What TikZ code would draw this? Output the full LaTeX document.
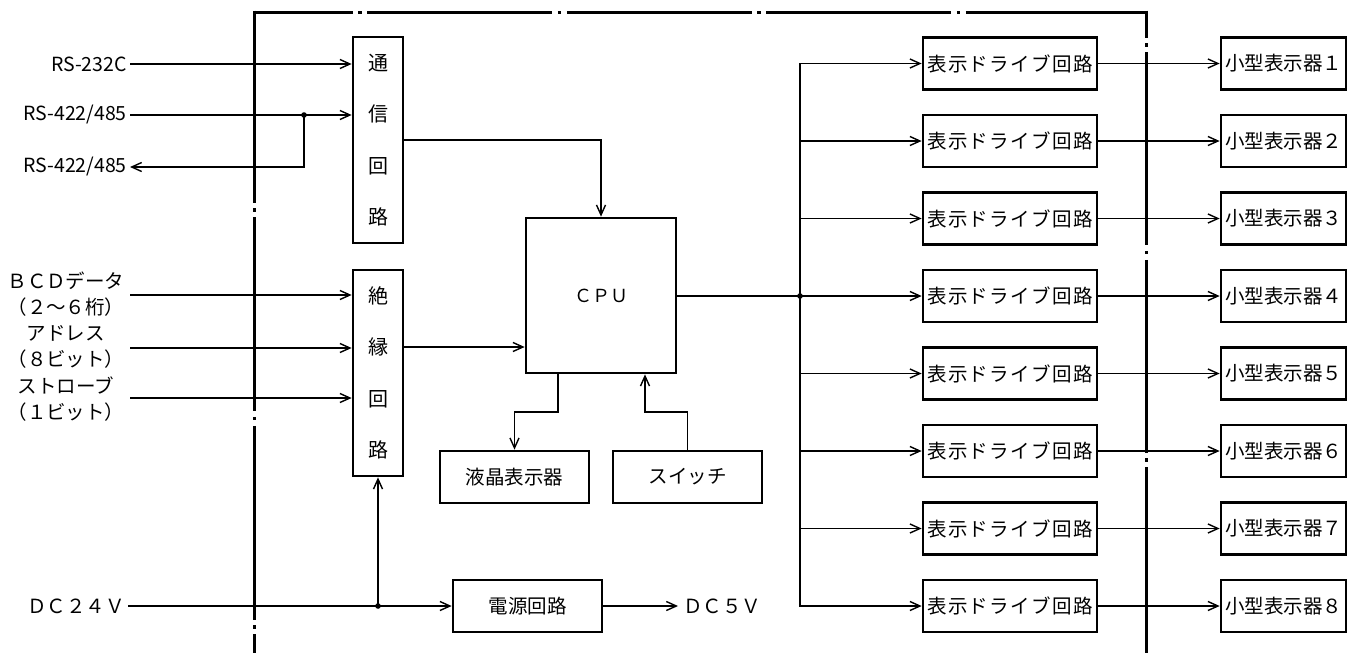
\documentclass[tikz,border=0pt]{standalone}
\usepackage{fontspec}
\setmainfont{Noto Sans CJK JP}
\newfontfamily\widejp[LetterSpace=7]{Noto Sans CJK JP}
\usetikzlibrary{arrows.meta}
\begin{document}
\begin{tikzpicture}[x=1pt,y=-1pt,
  box/.style={draw,line width=2.7pt,inner sep=0pt,minimum height=52pt,font=\fontsize{19.5}{23}\selectfont},
  vbox/.style={box,minimum width=50pt,minimum height=206pt,align=center,font=\fontsize{20}{51.5}\selectfont},
  conn/.style={line width=1.6pt},
  arr/.style={conn,-{Straight Barb[length=10pt,width=9pt,line width=1.4pt]}},
  lbl/.style={inner sep=0pt,font=\fontsize{19.5}{23}\selectfont},
  lbl2/.style={inner sep=0pt,align=center,font=\fontsize{19.5}{26}\selectfont},
  frame/.style={line width=3pt}
]
\useasboundingbox (0,0) rectangle (1354,653);

% frame (dash-dot, open at the bottom)
\draw[frame,dash pattern=on 194pt off 5.5pt on 3.5pt off 5.5pt,dash phase=1.75pt] (254,10.5) -- (254,653);
\draw[frame,dash pattern=on 185pt off 5.5pt on 3.5pt off 5.5pt,dash phase=86.25pt] (254,12) -- (1146,12);
\draw[frame,dash pattern=on 193pt off 5.5pt on 3.5pt off 5.5pt,dash phase=165.75pt] (1146,10.5) -- (1146,653);

% boxes
\node[vbox] (tsu) at (378,140) {通\\信\\回\\路};
\node[vbox] (zetsu) at (378,373) {絶\\縁\\回\\路};
\node[box,minimum width=150pt,minimum height=155pt,font=\fontsize{18}{20}\selectfont] (cpu) at (601,295.5) {ＣＰＵ};
\node[box,minimum width=149pt] (lcd) at (514.5,477) {液晶表示器};
\node[box,minimum width=149pt] (sw) at (687.5,477) {スイッチ};
\node[box,minimum width=149pt] (pwr) at (527.5,606) {電源回路};

\foreach \i/\z in {1/１,2/２,3/３,4/４,5/５,6/６,7/７,8/８} {
  \pgfmathsetmacro\yy{63.5+77.5*(\i-1)}
  \node[box,minimum width=174pt,font=\widejp\fontsize{19.5}{23}\selectfont] (drv\i) at (1010,\yy) {表示ドライブ回路};
  \node[box,minimum width=125pt] (disp\i) at (1283.5,\yy) {小型表示器\z};
}

% left labels
\node[lbl,anchor=east] (rs232) at (127,64) {RS-232C};
\node[lbl,anchor=east] (rs422a) at (127,115) {RS-422/485};
\node[lbl,anchor=east] (rs422b) at (127,167) {RS-422/485};
\node[lbl2] (bcd) at (66,294) {ＢＣＤデータ\\（２～６桁）};
\node[lbl2] (adr) at (66,347) {アドレス\\（８ビット）};
\node[lbl2] (stb) at (66,399) {ストローブ\\（１ビット）};
\node[lbl,anchor=east] (dc24) at (125,606) {ＤＣ２４Ｖ};
\node[lbl,anchor=west] (dc5) at (683,606) {ＤＣ５Ｖ};

% helper coordinates
\coordinate (j1) at (304,115);
\coordinate (c140) at (0,140);
\coordinate (c347) at (0,347);
\coordinate (cb1) at (130,295);
\coordinate (cb2) at (130,348);
\coordinate (cb3) at (130,398);
\coordinate (busj) at (800,296);
\coordinate (a1) at (558,412);
\coordinate (a2) at (645,412);
\coordinate (j2) at (378,606);

% left connectors
\draw[arr] ([xshift=3pt]rs232.east) -- (rs232.east -| tsu.west);
\draw[arr] ([xshift=3pt]rs422a.east) -- (rs422a.east -| tsu.west);
\draw[arr] (j1) |- ([xshift=3pt]rs422b.east);
\fill (j1) circle (2.8pt);
\draw[arr] (cb1) -- (zetsu.west |- cb1);
\draw[arr] (cb2) -- (zetsu.west |- cb2);
\draw[arr] (cb3) -- (zetsu.west |- cb3);

% to CPU
\draw[arr] (tsu.east |- c140) -| (cpu.north);
\draw[arr] (zetsu.east |- c347) -- (cpu.west |- c347);
\draw[arr] (cpu.south -| a1) -- (a1) -| (lcd.north);
\draw[arr] (sw.north) |- (a2) -- (cpu.south -| a2);

% power
\draw[arr] ([xshift=3pt]dc24.east) -- (pwr.west);
\fill (j2) circle (2.8pt);
\draw[arr] (j2) -- (zetsu.south);
\draw[arr] (pwr.east) -- ([xshift=-5pt]dc5.west);

% bus to drivers
\draw[conn] (cpu.east |- busj) -- (busj);
\fill (busj) circle (2.8pt);
\draw[arr] (busj) |- (drv1.west);
\draw[arr] (busj) |- (drv8.west);
\foreach \i in {2,...,7} {
  \draw[arr] (drv\i.west -| busj) -- (drv\i.west);
}
\foreach \i in {1,...,8} {
  \draw[arr] (drv\i.east) -- (disp\i.west);
}
\end{tikzpicture}
\end{document}
